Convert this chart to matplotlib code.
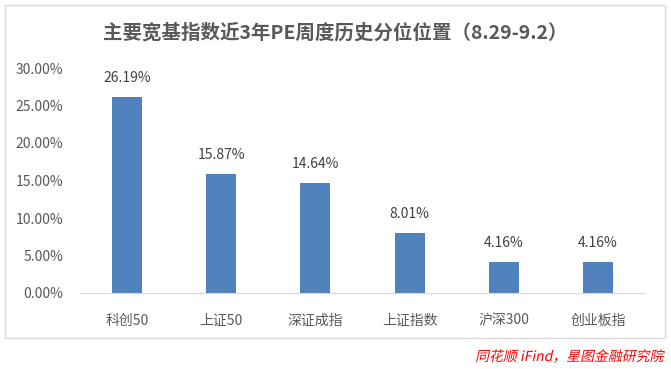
import matplotlib.pyplot as plt
from matplotlib.patches import Rectangle, PathPatch
from matplotlib.textpath import TextPath
from matplotlib.font_manager import FontProperties
from matplotlib.transforms import Affine2D, IdentityTransform

plt.rcParams['font.family'] = ['Noto Sans CJK SC', 'DejaVu Sans']

# data
categories = ['科创50', '上证50', '深证成指', '上证指数', '沪深300', '创业板指']
values = [26.19, 15.87, 14.64, 8.01, 4.16, 4.16]
yticks = [0, 5, 10, 15, 20, 25, 30]
title = '主要宽基指数近3年PE周度历史分位位置（8.29-9.2）'
source = '同花顺 iFind，星图金融研究院'

W, H = 671, 369
fig = plt.figure(figsize=(W / 100, H / 100), dpi=100)
fig.patch.set_facecolor('white')

# chart frame
fig.patches.append(Rectangle((5 / W, 1 - 338 / H), 660 / W, 333 / H,
                             transform=fig.transFigure, fill=False,
                             edgecolor='#d9d9d9', linewidth=1))

ax = fig.add_axes([80 / W, 1 - 293 / H, 565 / W, 225 / H])
x = range(len(categories))
ax.bar(x, values, width=0.32, color='#4f81bd')
for xi, v in zip(x, values):
    ax.text(xi, v + 1.6, f'{v:.2f}%', ha='center', va='bottom',
            fontsize=10, color='#404040', clip_on=False)

ax.set_xlim(-0.5, len(categories) - 0.5)
ax.set_ylim(0, 30)
ax.set_yticks(yticks)
ax.set_yticklabels([f'{t:.2f}%' for t in yticks], fontsize=10, color='#595959')
ax.set_xticks(list(x))
ax.set_xticklabels(categories, fontsize=10, color='#595959')
ax.tick_params(axis='both', length=0)
ax.tick_params(axis='y', pad=12)
ax.tick_params(axis='x', pad=15)
for s in ['top', 'right', 'left']:
    ax.spines[s].set_visible(False)
ax.spines['bottom'].set_color('#d9d9d9')

fig.text(0.5, 1 - 33 / H, title, ha='center', va='center',
         fontsize=14, fontweight='bold', color='#595959')

# source note, slanted by hand since the CJK font has no italic
tp = TextPath((0, 0), source, prop=FontProperties(family='Noto Sans CJK SC', size=10))
ext = tp.get_extents()
s = 100 / 72
tr = (Affine2D().skew_deg(12, 0).scale(s)
      .translate(665 - ext.x1 * s - 2, H - 361) + IdentityTransform())
fig.patches.append(PathPatch(tp, transform=tr, facecolor='#ff0000',
                             edgecolor='none'))

fig.savefig('out.png', dpi=100)
